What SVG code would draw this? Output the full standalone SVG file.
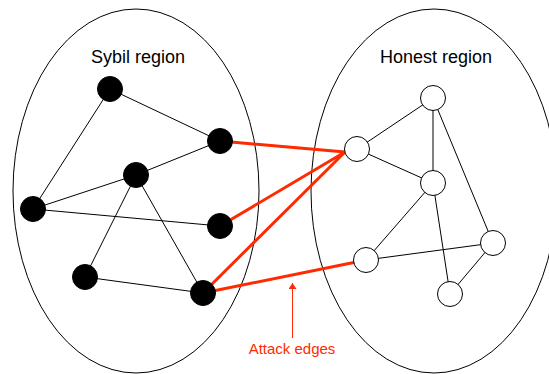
<svg xmlns="http://www.w3.org/2000/svg" width="549" height="374" viewBox="0 0 549 374">
<style>
.region{fill:none;stroke:#000;stroke-width:1}
.label{font-family:"Liberation Sans",Arial,sans-serif;font-size:18px;fill:#000;text-anchor:middle}
.edge{stroke:#000;stroke-width:1;fill:none}
.attack{stroke:#ff2a00;stroke-width:3;fill:none}
.sybil{fill:#000;stroke:#000;stroke-width:1}
.honest{fill:#fff;stroke:#000;stroke-width:1}
.note{font-family:"Liberation Sans",Arial,sans-serif;font-size:15px;fill:#ff2a00;text-anchor:middle}
</style>
<defs>
<marker id="ah" markerWidth="6" markerHeight="8" refX="6" refY="4" orient="auto" markerUnits="userSpaceOnUse">
<path d="M0,0 L6,4 L0,8 Z" fill="#ff2a00"/>
</marker>
</defs>
<g id="sybil-region"><ellipse class="region" cx="136" cy="191" rx="123" ry="182"/><text class="label" x="138" y="63">Sybil region</text></g>
<g id="honest-region"><ellipse class="region" cx="434" cy="191" rx="123" ry="182"/><text class="label" x="436" y="63">Honest region</text></g>
<g id="connectors">
<line class="edge" x1="110" y1="89" x2="220" y2="141"/>
<line class="edge" x1="110" y1="89" x2="33" y2="209"/>
<line class="edge" x1="136" y1="175" x2="220" y2="141"/>
<line class="edge" x1="136" y1="175" x2="33" y2="209"/>
<line class="edge" x1="33" y1="209" x2="220" y2="226"/>
<line class="edge" x1="136" y1="175" x2="85" y2="277"/>
<line class="edge" x1="136" y1="175" x2="203" y2="293"/>
<line class="edge" x1="85" y1="277" x2="203" y2="293"/>
<line class="edge" x1="433" y1="98" x2="357" y2="149"/>
<line class="edge" x1="433" y1="98" x2="433" y2="183"/>
<line class="edge" x1="433" y1="98" x2="493" y2="243"/>
<line class="edge" x1="357" y1="149" x2="433" y2="183"/>
<line class="edge" x1="433" y1="183" x2="366" y2="260"/>
<line class="edge" x1="433" y1="183" x2="450" y2="294"/>
<line class="edge" x1="366" y1="260" x2="493" y2="243"/>
<line class="edge" x1="493" y1="243" x2="450" y2="294"/>
<line class="attack" x1="220" y1="141" x2="345" y2="152"/>
<line class="attack" x1="220" y1="226" x2="345" y2="152"/>
<line class="attack" x1="203" y1="293" x2="345" y2="152"/>
<line class="attack" x1="203" y1="293" x2="366" y2="260"/>
<line stroke="#ff2a00" stroke-width="1" x1="292.5" y1="338" x2="292.5" y2="283" marker-end="url(#ah)"/>
</g>
<g id="s1"><circle class="sybil" cx="110" cy="89" r="12.5"/></g>
<g id="s2"><circle class="sybil" cx="220" cy="141" r="12.5"/></g>
<g id="s3"><circle class="sybil" cx="136" cy="175" r="12.5"/></g>
<g id="s4"><circle class="sybil" cx="33" cy="209" r="12.5"/></g>
<g id="s5"><circle class="sybil" cx="220" cy="226" r="12.5"/></g>
<g id="s6"><circle class="sybil" cx="85" cy="277" r="12.5"/></g>
<g id="s7"><circle class="sybil" cx="203" cy="293" r="12.5"/></g>
<g id="h1"><circle class="honest" cx="433" cy="98" r="12.5"/></g>
<g id="h2"><circle class="honest" cx="357" cy="149" r="12.5"/></g>
<g id="h3"><circle class="honest" cx="433" cy="183" r="12.5"/></g>
<g id="h4"><circle class="honest" cx="493" cy="243" r="12.5"/></g>
<g id="h5"><circle class="honest" cx="366" cy="260" r="12.5"/></g>
<g id="h6"><circle class="honest" cx="450" cy="294" r="12.5"/></g>
<g id="attack-label"><text class="note" x="292" y="354">Attack edges</text></g>
</svg>
